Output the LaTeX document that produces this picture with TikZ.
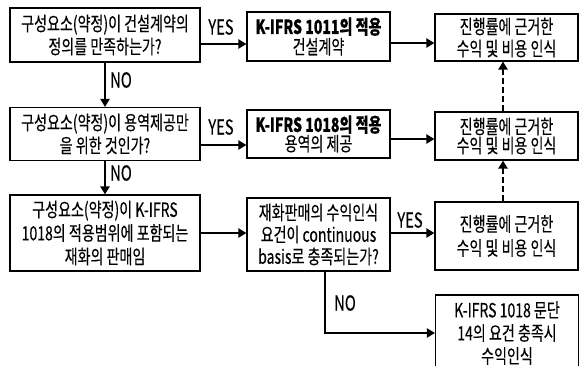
\documentclass[tikz,border=0pt]{standalone}
\usepackage{fontspec}
\setmainfont[FakeStretch=0.72, FakeBold=0.25]{Noto Sans CJK KR}
\usetikzlibrary{arrows.meta}
\begin{document}
\begin{tikzpicture}[x=1pt,y=-1pt,
  box/.style={draw, line width=1.1pt, align=center, inner sep=0pt, font=\fontsize{19.5}{23}\selectfont},
  narrowbox/.style={box, minimum width=143pt},
  widebox/.style={box, minimum width=190pt},
  arr/.style={line width=2pt, -{Triangle[length=8pt,width=9pt]}},
  darr/.style={line width=2pt, dash pattern=on 6pt off 3pt, -{Triangle[length=8pt,width=9pt]}},
  lbl/.style={font=\fontsize{20.5}{22}\selectfont, inner sep=0pt}]
\clip (0,0) rectangle (579,365);
\fill[white] (0,0) rectangle (579,365);
% left column
\node[widebox, minimum height=54pt] (A) at (105,35) {구성요소(약정)이 건설계약의\\정의를 만족하는가?};
\node[widebox, minimum height=53pt] (D) at (105,134) {구성요소(약정)이 용역제공만\\을 위한 것인가?};
\node[widebox, minimum height=76pt, font=\fontsize{19.5}{23.5}\selectfont] (G) at (105,233) {구성요소(약정)이 K-IFRS\\1018의 적용범위에 포함되는\\재화의 판매임};
% middle column
\node[narrowbox, minimum height=49pt, font=\fontsize{19.5}{20}\selectfont] (B) at (318.5,36.5) {\textbf{K-IFRS 1011의 적용}\\건설계약};
\node[narrowbox, minimum height=48pt, font=\fontsize{19.5}{19}\selectfont] (E) at (318.5,134) {\textbf{K-IFRS 1018의 적용}\\용역의 제공};
\node[narrowbox, minimum height=73pt, font=\fontsize{19.5}{22}\selectfont] (H) at (318.5,234.5) {재화판매의 수익인식\\요건이 continuous\\basis로 충족되는가?};
% right column
\node[narrowbox, minimum height=47pt, font=\fontsize{19.5}{22}\selectfont] (C) at (506.5,37.5) {진행률에 근거한\\수익 및 비용 인식};
\node[narrowbox, minimum height=48pt, font=\fontsize{19.5}{19}\selectfont] (F) at (506.5,136) {진행률에 근거한\\수익 및 비용 인식};
\node[narrowbox, minimum height=68pt, font=\fontsize{19.5}{24}\selectfont] (I) at (506.5,236) {진행률에 근거한\\수익 및 비용 인식};
\node[narrowbox, minimum height=76pt] (J) at (507,333) {K-IFRS 1018 문단\\14의 요건 충족시\\수익인식};
% horizontal arrows
\draw[arr] ([yshift=-9pt]A.east) -- ([yshift=-9pt]A.east -| B.west);
\draw[arr] ([yshift=-6.5pt]B.east) -- ([yshift=-6.5pt]B.east -| C.west);
\draw[arr] ([yshift=-11pt]D.east) -- ([yshift=-11pt]D.east -| E.west);
\draw[arr] ([yshift=-5pt]E.east) -- ([yshift=-5pt]E.east -| F.west);
\draw[arr] (G.east) -- (G.east -| H.west);
\draw[arr] ([yshift=1.5pt]H.east) -- ([yshift=1.5pt]H.east -| I.west);
% vertical arrows
\draw[arr] (A.south) -- (D.north);
\draw[arr] (D.south) -- (G.north);
\draw[darr] ([xshift=-3.5pt]F.north) -- ([xshift=-3.5pt]F.north |- C.south);
\draw[darr] ([xshift=-3.5pt]I.north) -- ([xshift=-3.5pt]I.north |- F.south);
\draw[arr] ([xshift=6.5pt]H.south) |- (J.west);
% labels
\node[lbl] (y1) at (221,27) {YES};
\node[lbl] (y2) at (221,127) {YES};
\node[lbl] (y3) at (410,220) {YES};
\node[lbl] (n1) at (121,80) {NO};
\node[lbl] (n2) at (121,173) {NO};
\node[lbl] (n3) at (345,303) {NO};
\end{tikzpicture}
\end{document}
